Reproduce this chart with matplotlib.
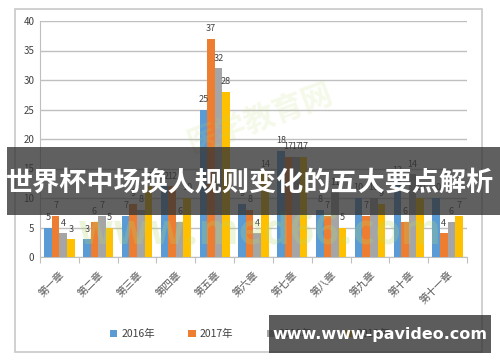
import numpy as np
import matplotlib
matplotlib.use("Agg")
import matplotlib.pyplot as plt
from matplotlib.patches import Rectangle

plt.rcParams["font.family"] = ["Noto Sans CJK SC", "DejaVu Sans"]

# 数据
categories = ["第一章", "第二章", "第三章", "第四章", "第五章", "第六章",
              "第七章", "第八章", "第九章", "第十章", "第十一章"]
years = ["2016年", "2017年", "2018年", "2019年"]
v2016 = [5, 3, 7, 12, 25, 9, 18, 8, 10, 13, 10]
v2017 = [7, 6, 9, 12, 37, 8, 17, 7, 7, 6, 4]
v2018 = [4, 7, 8, 6, 32, 4, 17, 11, 10, 14, 6]
v2019 = [3, 5, 12, 10, 28, 14, 17, 5, 9, 10, 7]
series = [v2016, v2017, v2018, v2019]
colors = ["#5B9BD5", "#ED7D31", "#A5A5A5", "#FFC000"]

fig = plt.figure(figsize=(5, 3.62), dpi=100)
fig.patch.set_facecolor("white")
# 图表外框
fig.patches.append(Rectangle((15 / 500, 1 - 352 / 362), 467 / 500, 343 / 362,
                             transform=fig.transFigure, fill=False,
                             edgecolor="#C8C8C8", lw=1.2))

ax = fig.add_axes([40 / 500, 1 - 257 / 362, 427 / 500, 236 / 362])
x = np.arange(len(categories))
w = 0.195
for i, (vals, c) in enumerate(zip(series, colors)):
    xs = x + (i - 1.5) * w
    ax.bar(xs, vals, width=w, color=c, label=years[i], zorder=3)
    for xx, v in zip(xs, vals):
        ax.annotate(str(v), (xx, v), xytext=(0, 4), textcoords="offset points",
                    ha="center", va="bottom", fontsize=6.5, color="#404040",
                    zorder=4)

ax.set_xlim(-0.5, len(categories) - 0.5)
ax.set_ylim(0, 40)
ax.set_yticks(range(0, 41, 5))
ax.tick_params(axis="y", length=0, labelsize=7, colors="#404040", pad=4)
ax.yaxis.grid(True, color="#BFBFBF", lw=1, zorder=0)
ax.set_xticks(np.arange(-0.5, len(categories), 1))
ax.set_xticklabels([])
ax.tick_params(axis="x", which="major", length=4, color="#BFBFBF", direction="out")
ax.set_xticks(x, minor=True)
ax.set_xticklabels(categories, minor=True, rotation=45, ha="right", va="top",
                   rotation_mode="anchor", fontsize=7.5, color="#595959")
ax.tick_params(axis="x", which="minor", length=0, pad=9)
for s in ["top", "right"]:
    ax.spines[s].set_visible(False)
ax.spines["left"].set_color("#BFBFBF")
ax.spines["bottom"].set_color("#BFBFBF")

fig.legend(loc="center", bbox_to_anchor=(0.5, 1 - 334 / 362), ncol=4,
           frameon=False, fontsize=7.5, handlelength=0.7, handleheight=0.7,
           columnspacing=3.2, handletextpad=0.4, labelcolor="#404040")

# 水印
fig.text(0.52, 1 - 232 / 362, "www.med66.com", fontsize=30, color="#B5D96A",
         alpha=0.25, ha="center", va="center", fontweight="bold")
fig.text(0.52, 1 - 118 / 362, "医学教育网", fontsize=22, color="#B5D96A",
         alpha=0.15, ha="center", va="center", rotation=20, fontweight="bold")

# 标题横幅
fig.patches.append(Rectangle((7 / 500, 1 - 215 / 362), 493 / 500, 68 / 362,
                             transform=fig.transFigure, facecolor="#333333",
                             alpha=0.78, edgecolor="none", zorder=10))
fig.text(0.5, 1 - 183 / 362, "世界杯中场换人规则变化的五大要点解析", fontsize=19.5,
         color="white", ha="center", va="center", fontweight="bold", zorder=11)

# 底部网址横幅
fig.patches.append(Rectangle((269 / 500, 1 - 353 / 362), 222 / 500, 38 / 362,
                             transform=fig.transFigure, facecolor="#333333",
                             alpha=0.8, edgecolor="none", zorder=10))
fig.text(380 / 500, 1 - 335 / 362, "www.www-pavideo.com", fontsize=11.5,
         color="white", ha="center", va="center", fontweight="bold", zorder=11,
         family=["DejaVu Sans"])

fig.savefig("out.png", dpi=100)
